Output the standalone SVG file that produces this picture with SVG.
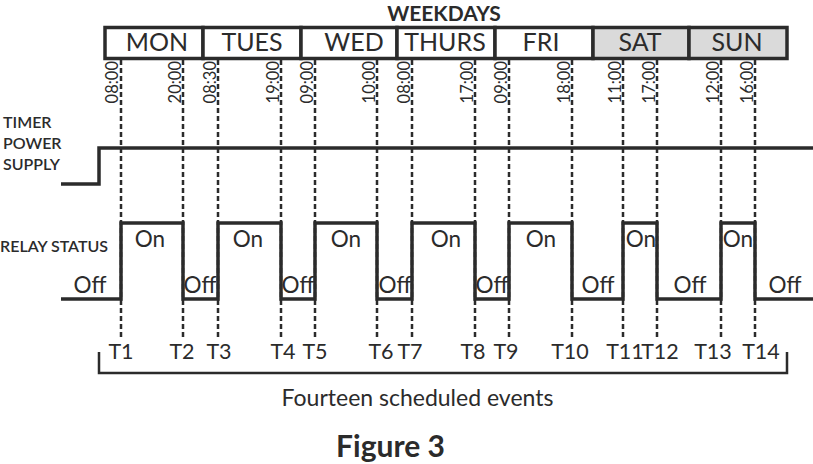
<svg xmlns="http://www.w3.org/2000/svg" width="813" height="464" viewBox="0 0 813 464">
<style>
text{font-family:Lato,"Noto Sans","Liberation Sans",sans-serif;fill:#2b2b2b}
.day{font-size:25px;font-weight:400;text-anchor:middle}
.tm{font-size:16.5px;text-anchor:end}
.lbl{font-size:16px;font-weight:600}
.st{font-size:22.5px;text-anchor:middle}
.ev{font-size:21.5px;text-anchor:middle}
.cell{stroke:#2b2b2b;stroke-width:3.5;fill:#fff}
.we{fill:#dadada}
.dash{stroke:#2b2b2b;stroke-width:2.5;stroke-dasharray:5 3;fill:none}
.wave{stroke:#2b2b2b;stroke-width:3.5;fill:none}
</style>
<rect width="813" height="464" fill="#fff"/>
<g id="title"><text x="444" y="20.8" style="font-size:21px;font-weight:bold;text-anchor:middle">WEEKDAYS</text></g>
<g id="days">
<rect class="cell" x="105" y="27.5" width="98" height="31"/>
<rect class="cell" x="203" y="27.5" width="98" height="31"/>
<rect class="cell" x="301" y="27.5" width="96" height="31"/>
<rect class="cell" x="397" y="27.5" width="98" height="31"/>
<rect class="cell" x="495" y="27.5" width="98" height="31"/>
<rect class="cell we" x="593" y="27.5" width="96" height="31"/>
<rect class="cell we" x="689" y="27.5" width="98" height="31"/>
<text class="day" x="157" y="51">MON</text>
<text class="day" x="252" y="51">TUES</text>
<text class="day" x="354" y="51">WED</text>
<text class="day" x="445" y="51">THURS</text>
<text class="day" x="541" y="51">FRI</text>
<text class="day" x="640" y="51">SAT</text>
<text class="day" x="737" y="51">SUN</text>
</g>
<g id="connectors">
<path class="dash" d="M121,60V340M183,60V340M218,60V340M281,60V340M315,60V340M377,60V340M412,60V340M475,60V340M509,60V340M572,60V340M623,60V340M657,60V340M721,60V340M755,60V340"/>
</g>
<g id="times">
<text class="tm" transform="translate(118,61) rotate(-90)">08:00</text>
<text class="tm" transform="translate(180.5,61) rotate(-90)">20:00</text>
<text class="tm" transform="translate(215.5,61) rotate(-90)">08:30</text>
<text class="tm" transform="translate(278.5,61) rotate(-90)">19:00</text>
<text class="tm" transform="translate(312.5,61) rotate(-90)">09:00</text>
<text class="tm" transform="translate(374.5,61) rotate(-90)">10:00</text>
<text class="tm" transform="translate(409.5,61) rotate(-90)">08:00</text>
<text class="tm" transform="translate(472.5,61) rotate(-90)">17:00</text>
<text class="tm" transform="translate(506.5,61) rotate(-90)">09:00</text>
<text class="tm" transform="translate(569.5,61) rotate(-90)">18:00</text>
<text class="tm" transform="translate(620.5,61) rotate(-90)">11:00</text>
<text class="tm" transform="translate(654.5,61) rotate(-90)">17:00</text>
<text class="tm" transform="translate(718.5,61) rotate(-90)">12:00</text>
<text class="tm" transform="translate(752.5,61) rotate(-90)">16:00</text>
</g>
<g id="power">
<text class="lbl" x="3" y="128">TIMER</text>
<text class="lbl" x="3" y="149">POWER</text>
<text class="lbl" x="3" y="170">SUPPLY</text>
<path class="wave" d="M61,184H99V148H813"/>
</g>
<g id="relay">
<text class="lbl" x="0" y="252">RELAY STATUS</text>
<path class="wave" d="M61,299H121V223H183V299H218V223H281V299H315V223H377V299H412V223H475V299H509V223H572V299H623V223H657V299H721V223H755V299H813"/>
<text class="st" x="150" y="247">On</text>
<text class="st" x="248" y="247">On</text>
<text class="st" x="346" y="247">On</text>
<text class="st" x="446" y="247">On</text>
<text class="st" x="541" y="247">On</text>
<text class="st" x="641" y="247">On</text>
<text class="st" x="738" y="247">On</text>
<text class="st" x="90" y="293">Off</text>
<text class="st" x="200" y="293">Off</text>
<text class="st" x="298" y="293">Off</text>
<text class="st" x="395" y="293">Off</text>
<text class="st" x="492" y="293">Off</text>
<text class="st" x="598" y="293">Off</text>
<text class="st" x="690" y="293">Off</text>
<text class="st" x="785" y="293">Off</text>
</g>
<g id="events">
<text class="ev" x="121" y="359">T1</text>
<text class="ev" x="182" y="359">T2</text>
<text class="ev" x="219" y="359">T3</text>
<text class="ev" x="283" y="359">T4</text>
<text class="ev" x="315" y="359">T5</text>
<text class="ev" x="381" y="359">T6</text>
<text class="ev" x="410" y="359">T7</text>
<text class="ev" x="473" y="359">T8</text>
<text class="ev" x="506" y="359">T9</text>
<text class="ev" x="570" y="359">T10</text>
<text class="ev" x="625" y="359">T11</text>
<text class="ev" x="660" y="359">T12</text>
<text class="ev" x="713" y="359">T13</text>
<text class="ev" x="761" y="359">T14</text>
<path d="M99,352V373H787V352" stroke="#2b2b2b" stroke-width="2.5" fill="none"/>
<text x="417.5" y="406" style="font-size:23px;text-anchor:middle">Fourteen scheduled events</text>
</g>
<g id="caption"><text x="390.5" y="457" style="font-size:30px;font-weight:bold;text-anchor:middle">Figure 3</text></g>
</svg>
